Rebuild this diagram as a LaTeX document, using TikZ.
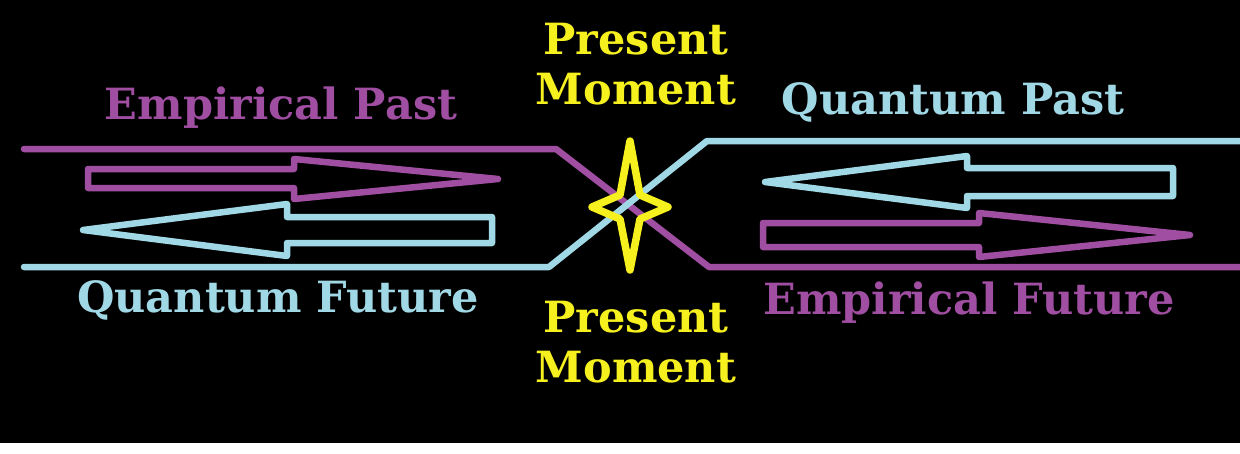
\documentclass[tikz,border=0pt]{standalone}
\usepackage{fontspec}
\setmainfont{DejaVu Serif}
\begin{document}
\begin{tikzpicture}[x=1pt,y=-1pt,
  mag/.style={draw={rgb,255:red,160;green,78;blue,162}, line width=6.5pt, line join=round},
  cya/.style={draw={rgb,255:red,160;green,216;blue,230}, line width=6.5pt, line join=round},
  ylw/.style={draw={rgb,255:red,245;green,240;blue,30}, line width=7.5pt, line join=round},
  lbl/.style={font=\bfseries\fontsize{43}{50}\selectfont, inner sep=0pt, align=center},
]
\definecolor{magc}{RGB}{160,78,162}
\definecolor{cyac}{RGB}{160,216,230}
\definecolor{ylwc}{RGB}{245,240,30}
\useasboundingbox (0,0) rectangle (1240,453);
\fill[white] (0,0) rectangle (1240,453);
\fill[black] (0,0) rectangle (1240,443);

% time lines
\draw[mag, line cap=round] (24,149) -- (556,149) -- (709,267) -- (1240,267);
\draw[cya, line cap=round] (24,267) -- (549,267) -- (707,141) -- (1240,141);

% left arrows
\draw[mag] (88,169) -- (294,169) -- (294,159) -- (498,179) -- (294,199) -- (294,188) -- (88,188) -- cycle;
\draw[cya] (492,217) -- (287,217) -- (287,204) -- (83,230) -- (287,256) -- (287,243) -- (492,243) -- cycle;

% right arrows
\draw[cya] (1173,168) -- (967,168) -- (967,156) -- (765,182) -- (967,208) -- (967,196) -- (1173,196) -- cycle;
\draw[mag] (763,223) -- (979,223) -- (979,213) -- (1190,235) -- (979,257) -- (979,247) -- (763,247) -- cycle;

% star
\draw[ylw] (630,141) -- (640,195) -- (668,207) -- (640,219) -- (630,270)
  -- (620,219) -- (592,207) -- (620,195) -- cycle;

% labels
\node[lbl, text=magc] (ep) at (281,108) {Empirical Past};
\node[lbl, text=cyac] (qf) at (278,300) {Quantum Future};
\node[lbl, text=cyac] (qp) at (953,102) {Quantum Past};
\node[lbl, text=magc] (ef) at (969,303) {Empirical Future};
\node[lbl, text=ylwc] (pm1) at (636,64) {Present\\Moment};
\node[lbl, text=ylwc] (pm2) at (636,342) {Present\\Moment};
\end{tikzpicture}
\end{document}
